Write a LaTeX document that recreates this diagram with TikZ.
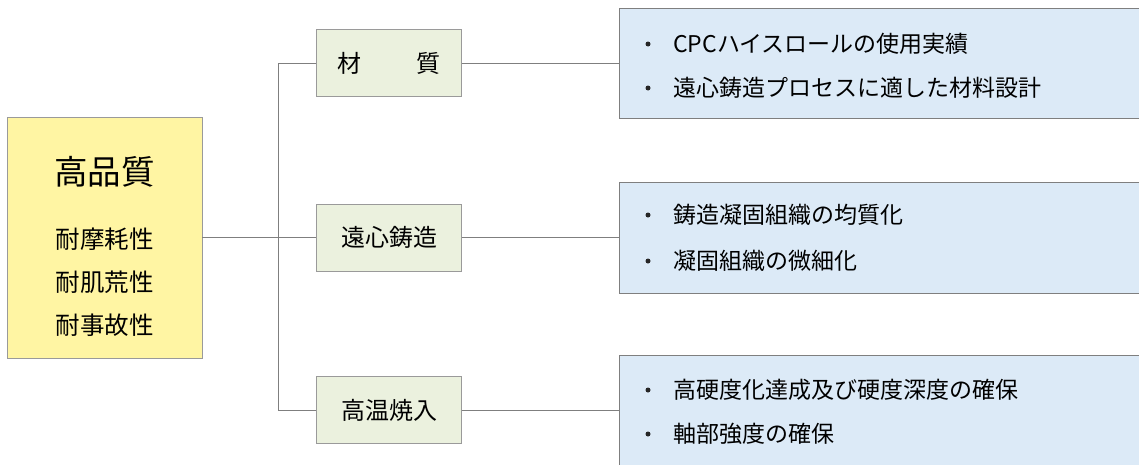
\documentclass[tikz,border=0pt]{standalone}
\usepackage{fontspec}
\setmainfont{Noto Sans CJK JP}
\definecolor{qfill}{HTML}{FFF5A3}
\definecolor{mfill}{HTML}{EBF1DE}
\definecolor{rfill}{HTML}{DCEAF7}
\definecolor{bord}{HTML}{9A9A9A}
\definecolor{conn}{HTML}{7F7F7F}
\begin{document}
\begin{tikzpicture}[x=1pt,y=-1pt,
  qbox/.style={draw=bord, line width=0.8pt, fill=qfill, minimum width=195pt, minimum height=241pt, inner sep=0pt},
  mbox/.style={draw=bord, line width=0.8pt, fill=mfill, minimum width=145pt, minimum height=67pt, inner sep=0pt, font=\fontsize{24}{28}\selectfont},
  rbox/.style={draw=conn, line width=0.8pt, fill=rfill, minimum width=524pt, inner sep=0pt},
  rtxt/.style={anchor=west, inner sep=0pt, font=\fontsize{23}{27}\selectfont},
  bul/.style={circle, fill=black!85, inner sep=0pt, minimum size=5pt},
  subt/.style={inner sep=0pt, font=\fontsize{24.5}{28}\selectfont},
  cline/.style={draw=conn, line width=0.8pt}]
\useasboundingbox (0,0) rectangle (1139,464);
\fill[white] (0,0) rectangle (1139,464);
% left box
\node[qbox] (q) at (104.5,237.5) {};
\node[inner sep=0pt, font=\fontsize{33.5}{38}\selectfont] (qt) at (104.5,172) {高品質};
\node[subt] (q1) at (104.5,239) {耐摩耗性};
\node[subt] (q2) at (104.5,282) {耐肌荒性};
\node[subt] (q3) at (104.5,325) {耐事故性};
% middle boxes
\node[mbox] (m1) at (389,63) {材\hspace{55pt}質};
\node[mbox] (m2) at (389,237.5) {遠心鋳造};
\node[mbox] (m3) at (389,410) {高温焼入};
% right boxes
\node[rbox, minimum height=110pt] (r1) at (881,63) {};
\node[rbox, minimum height=111pt] (r2) at (881,237.5) {};
\node[rbox, minimum height=120pt] (r3) at (881,415) {};
\node[bul] (b11) at (648,44) {};
\node[rtxt] (t11) at (673,44) {CPCハイスロールの使用実績};
\node[bul] (b12) at (648,88) {};
\node[rtxt] (t12) at (673,88) {遠心鋳造プロセスに適した材料設計};
\node[bul] (b21) at (648,215) {};
\node[rtxt] (t21) at (673,215) {鋳造凝固組織の均質化};
\node[bul] (b22) at (648,261) {};
\node[rtxt] (t22) at (673,261) {凝固組織の微細化};
\node[bul] (b31) at (648,390) {};
\node[rtxt] (t31) at (673,390) {高硬度化達成及び硬度深度の確保};
\node[bul] (b32) at (648,434) {};
\node[rtxt] (t32) at (673,434) {軸部強度の確保};
% connectors
\coordinate (j1) at (278,63);
\coordinate (j3) at (278,410);
\draw[cline] (q.east) -- (m2.west);
\draw[cline] (m1.west) -- (j1) -- (j3) -- (m3.west);
\draw[cline] (m1.east) -- (r1.west);
\draw[cline] (m2.east) -- (r2.west);
\draw[cline] (m3.east) -- (r3.west |- m3.east);
\end{tikzpicture}
\end{document}
